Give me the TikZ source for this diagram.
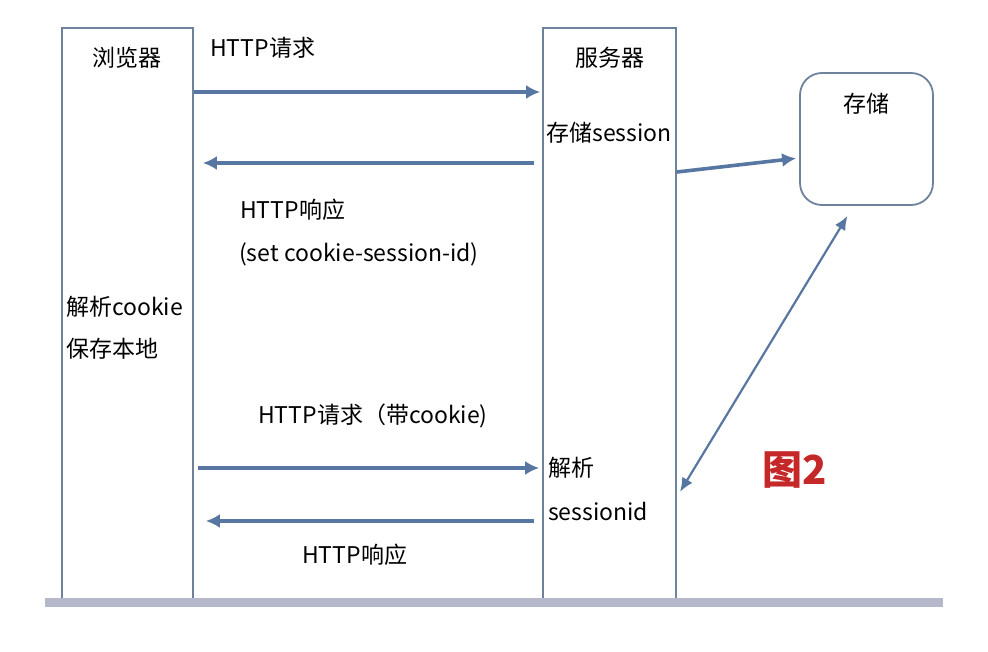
\documentclass[tikz,border=0pt]{standalone}
\usepackage{fontspec}
\setmainfont{Noto Sans CJK SC}
\usetikzlibrary{arrows.meta}
\definecolor{lineblue}{RGB}{88,118,162}
\definecolor{boxgray}{RGB}{110,130,155}
\definecolor{bargray}{RGB}{180,184,202}
\definecolor{figred}{RGB}{196,40,40}

\begin{document}
\begin{tikzpicture}[x=1pt, y=-1pt,
        lane/.style={rectangle, draw=boxgray, line width=1.8pt, minimum width=131pt, minimum height=575pt, inner sep=0pt},
        store/.style={rectangle, draw=boxgray, line width=1.8pt, rounded corners=22pt, minimum width=133pt, minimum height=132pt, inner sep=0pt},
        txt/.style={font=\fontsize{23}{27}\selectfont, inner sep=0pt},
        arrow/.style={-{Latex[length=14pt,width=14pt]}, draw=lineblue, line width=3.6pt}
    ]
        \useasboundingbox (0,0) rectangle (988,652);
        \node[lane] (browser) at (127.5,315.5) {};
        \node[lane, minimum width=133pt] (server) at (609.5,315.5) {};
        \node[store] (storage) at (866.5,139) {};

        \node[txt] (browsertitle) at (127,58) {浏览器};
        \node[txt] (servertitle) at (610,58) {服务器};
        \node[txt] (savesession) at (609,133) {存储session};
        \node[txt] (storagetitle) at (866,104) {存储};
        \node[txt, anchor=west] (req) at (210,48) {HTTP请求};
        \node[txt, anchor=west] (resp) at (240,210) {HTTP响应};
        \node[txt, anchor=west] (setcookie) at (239,254) {(set cookie-session-id)};
        \node[txt, anchor=west] (parsecookie) at (66,307) {解析cookie};
        \node[txt, anchor=west] (savelocal) at (66,349) {保存本地};
        \node[txt, anchor=west] (reqcookie) at (258,416) {HTTP请求（带cookie)};
        \node[txt, anchor=west] (parse) at (548,468) {解析};
        \node[txt, anchor=west] (sessionid) at (548,511) {sessionid};
        \node[txt, anchor=west] (resp2) at (302,555) {HTTP响应};
        \node[font=\fontsize{40}{44}\selectfont\bfseries, text=figred, inner sep=0pt] (fig) at (795,470) {图2};

        \draw[arrow, shorten >=2pt] (browser.east |- 0,92) -- (server.west |- 0,92);
        \draw[arrow, shorten <=8pt, shorten >=9pt] (server.west |- 0,163) -- (browser.east |- 0,163);
        \draw[arrow, shorten >=3pt] (server.east |- 0,172) -- (storage.west |- 0,158);
        \draw[arrow, shorten <=4pt, shorten >=3pt] (browser.east |- 0,468) -- (server.west |- 0,468);
        \draw[arrow, shorten <=8pt, shorten >=12pt] (server.west |- 0,521) -- (browser.east |- 0,521);
        \draw[arrow, {Latex[length=14pt,width=12pt]}-{Latex[length=14pt,width=12pt]}, line width=2.2pt, shorten <=6pt]
            (server.east |- 0,497) -- ([xshift=-19pt,yshift=-10pt]storage.south);

        \fill[bargray] (45,598) rectangle (943,607);
    \end{tikzpicture}
\end{document}
